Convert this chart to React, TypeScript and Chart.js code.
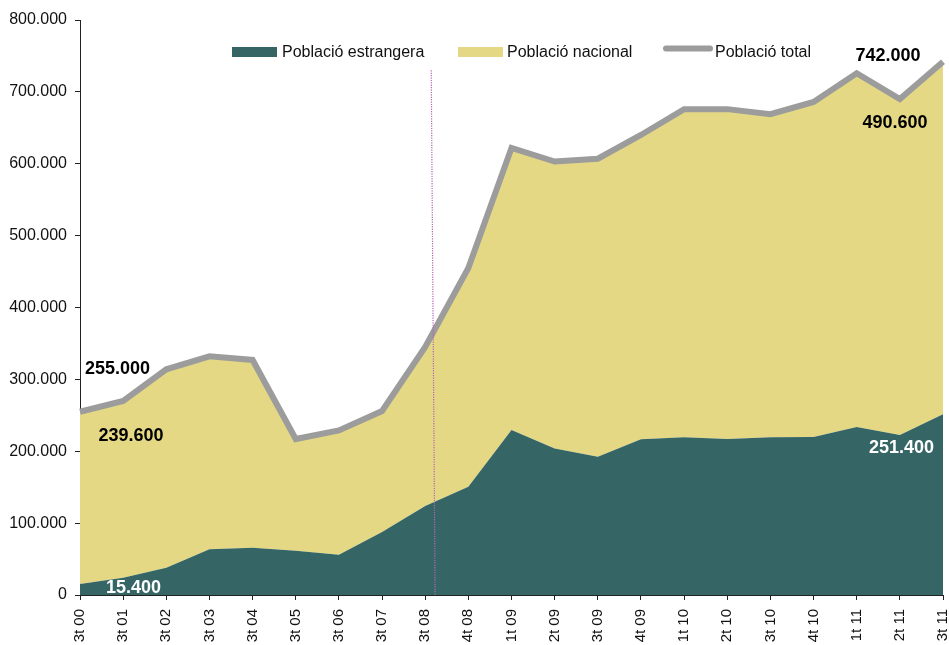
import React, { useEffect, useRef } from "react";
import { Chart, registerables } from "chart.js";

Chart.register(...registerables);

const categories = [
  "3t 00", "3t 01", "3t 02", "3t 03", "3t 04", "3t 05", "3t 06", "3t 07", "3t 08",
  "4t 08", "1t 09", "2t 09", "3t 09", "4t 09", "1t 10", "2t 10", "3t 10", "4t 10",
  "1t 11", "2t 11", "3t 11",
];

const foreign = [
  15400, 24000, 38000, 63600, 65800, 61700, 56000, 87600, 123800,
  150700, 229600, 204000, 192500, 216600, 219400, 217000, 219400, 219800,
  233700, 222600, 251400,
];

const national = [
  239600, 246000, 276000, 268400, 261200, 155300, 173000, 168400, 221200,
  304300, 392400, 399000, 414500, 423400, 456600, 459000, 449600, 466200,
  492300, 467400, 490600,
];

const total = [
  255000, 270000, 314000, 332000, 327000, 217000, 229000, 256000, 345000,
  455000, 622000, 603000, 607000, 640000, 676000, 676000, 669000, 686000,
  726000, 690000, 742000,
];

const seriesNames = ["Població estrangera", "Població nacional", "Població total"];
const Y_MIN = 0;
const Y_MAX = 800000;
const Y_STEP = 100000;
const markerIndex = 8; // dotted line after "3t 08"
const markerTopValue = 730000;

const TEAL = "#356665";
const YELLOW = "#E4D884";
const GREY = "#9C9C9C";
const FONT = "'Liberation Sans', Arial, sans-serif";

const fmt = (v: number) => String(Math.round(v)).replace(/\B(?=(\d{3})+(?!\d))/g, ".");

const overlayPlugin = {
  id: "overlay",
  afterDatasetsDraw(chart: any) {
    const { ctx } = chart;
    const x = chart.scales.x;
    const y = chart.scales.y;
    const step = x.getPixelForValue(1) - x.getPixelForValue(0);
    ctx.save();
    // dotted vertical marker
    const x0 = x.getPixelForValue(markerIndex);
    ctx.strokeStyle = "#B565B5";
    ctx.lineWidth = 1.2;
    ctx.setLineDash([1.2, 1.2]);
    ctx.beginPath();
    ctx.moveTo(x0 + step * 0.14, y.getPixelForValue(markerTopValue));
    ctx.lineTo(x0 + step * 0.23, y.getPixelForValue(0));
    ctx.stroke();
    ctx.setLineDash([]);

    // value labels
    ctx.font = `bold 18px ${FONT}`;
    ctx.textAlign = "center";
    ctx.textBaseline = "middle";
    const last = categories.length - 1;
    const xf = x.getPixelForValue(0);
    const xl = x.getPixelForValue(last);
    const yTot0 = y.getPixelForValue(total[0]);
    const yFor0 = y.getPixelForValue(foreign[0]);
    const yTotL = y.getPixelForValue(total[last]);
    const yForL = y.getPixelForValue(foreign[last]);
    ctx.fillStyle = "#000";
    ctx.fillText(fmt(total[0]), xf + 37.5, yTot0 - 43);
    ctx.fillText(fmt(national[0]), xf + 51, yTot0 + 24);
    ctx.fillText(fmt(total[last]), xl - 55, yTotL - 6);
    ctx.fillText(fmt(national[last]), xl - 48, yTotL + 61);
    ctx.fillStyle = "#fff";
    ctx.fillText(fmt(foreign[0]), xf + 53.5, yFor0 + 4);
    ctx.fillText(fmt(foreign[last]), xl - 41.5, yForL + 34);
    ctx.restore();
  },
  afterDraw(chart: any) {
    const { ctx } = chart;
    ctx.save();
    ctx.font = `16px ${FONT}`;
    ctx.textAlign = "left";
    ctx.textBaseline = "alphabetic";
    // item 1
    ctx.fillStyle = TEAL;
    ctx.fillRect(232, 47, 45, 10);
    ctx.fillStyle = "#111";
    ctx.fillText(seriesNames[0], 282, 56.5);
    // item 2
    ctx.fillStyle = YELLOW;
    ctx.fillRect(458, 47, 45, 10);
    ctx.fillStyle = "#111";
    ctx.fillText(seriesNames[1], 507, 56.5);
    // item 3
    ctx.strokeStyle = GREY;
    ctx.lineWidth = 6;
    ctx.lineCap = "round";
    ctx.beginPath();
    ctx.moveTo(666, 48.5);
    ctx.lineTo(710, 48.5);
    ctx.stroke();
    ctx.fillStyle = "#111";
    ctx.fillText(seriesNames[2], 715, 56.5);
    ctx.restore();
  },
};

export default function App() {
  const ref = useRef<HTMLCanvasElement | null>(null);

  useEffect(() => {
    document.body.style.margin = "0";
    const canvas = ref.current;
    if (!canvas) return;
    const chart = new Chart(canvas, {
      type: "line",
      data: {
        labels: categories,
        datasets: [
          {
            label: seriesNames[2],
            data: total,
            stack: "total",
            borderColor: GREY,
            borderWidth: 6,
            fill: false,
            pointRadius: 0,
            tension: 0,
            borderJoinStyle: "miter",
          },
          {
            label: seriesNames[0],
            data: foreign,
            stack: "parts",
            backgroundColor: TEAL,
            borderWidth: 0,
            borderColor: TEAL,
            fill: "origin",
            pointRadius: 0,
            tension: 0,
          },
          {
            label: seriesNames[1],
            data: national,
            stack: "parts",
            backgroundColor: YELLOW,
            borderWidth: 0,
            borderColor: YELLOW,
            fill: "-1",
            pointRadius: 0,
            tension: 0,
          },
        ],
      } as any,
      options: {
        responsive: false,
        animation: false,
        devicePixelRatio: 1,
        layout: { padding: { top: 20, right: 6, left: 0, bottom: 0 } },
        plugins: {
          legend: { display: false },
          tooltip: { enabled: false },
        },
        scales: {
          x: {
            offset: false,
            grid: { drawOnChartArea: false, drawTicks: true, tickLength: 5, color: "#222" },
            border: { display: true, color: "#222", width: 1 },
            ticks: {
              minRotation: 90,
              maxRotation: 90,
              autoSkip: false,
              padding: 9,
              color: "#111",
              font: { family: FONT, size: 15 },
            },
            afterFit: (s: any) => {
              s.height = 50;
              s.paddingLeft = 0;
              s.paddingRight = 0;
            },
          },
          y: {
            stacked: true,
            min: Y_MIN,
            max: Y_MAX,
            grid: { drawOnChartArea: false, drawTicks: true, tickLength: 5, color: "#222" },
            border: { display: true, color: "#222", width: 1 },
            ticks: {
              stepSize: Y_STEP,
              padding: 8,
              color: "#111",
              font: { family: FONT, size: 16 },
              callback: (v: any) => fmt(Number(v)),
            },
            afterFit: (s: any) => {
              s.width = 80;
            },
          },
        },
      } as any,
      plugins: [overlayPlugin],
    });
    return () => chart.destroy();
  }, []);

  return (
    <div style={{ width: 949, height: 645 }}>
      <canvas ref={ref} width={949} height={645} style={{ display: "block" }} />
    </div>
  );
}
